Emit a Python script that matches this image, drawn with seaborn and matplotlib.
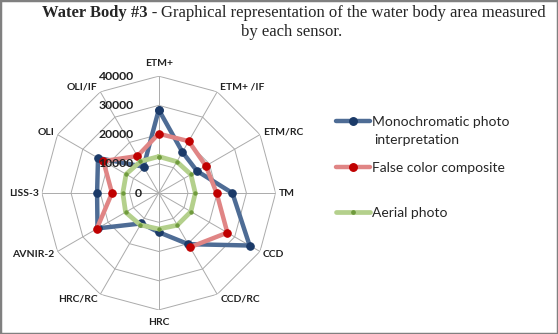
import numpy as np
import pandas as pd
import seaborn as sns
import matplotlib.pyplot as plt
from matplotlib import transforms
from matplotlib.lines import Line2D
from matplotlib.patches import Rectangle

sensors = ["ETM+", "ETM+ /IF", "ETM/RC", "TM", "CCD", "CCD/RC",
           "HRC", "HRC/RC", "AVNIR-2", "LISS-3", "OLI", "OLI/IF"]
mono = [28500, 16200, 15100, 25200, 35900, 20200,
        13400, 12000, 24200, 21100, 24000, 10400]
false_color = [20300, 20500, 18600, 19800, 27100, 21400,
               np.nan, np.nan, 24500, 16000, 21900, 14600]
aerial = [12500, 12400, 12700, 12500, 12700, 12700,
          12300, 12600, 13100, 12300, 12900, 12500]
ring_ticks = [0, 10000, 20000, 30000, 40000]

series = [
    ("Monochromatic photo", mono, "#4e6c95", "#1b3a68", 3.2, 5.4),
    ("False color composite", false_color, "#e08585", "#c00000", 3.2, 5.4),
    ("Aerial photo", aerial, "#b4d08c", "#6f9a3c", 3.4, 2.4),
]

sns.set_theme(style="white")
plt.rcParams["font.family"] = ["Lato", "DejaVu Sans"]

theta = np.linspace(0, 2 * np.pi, len(sensors), endpoint=False)


def loop(values):
    df = pd.DataFrame({"theta": theta, "value": values})
    missing = np.where(df["value"].isna())[0]
    if len(missing):
        start = (missing[-1] + 1) % len(df)
        df = pd.concat([df.iloc[start:], df.iloc[:start]]).dropna()
    else:
        df = pd.concat([df, df.iloc[:1]])
    return df.reset_index(drop=True)


fig = plt.figure(figsize=(5.58, 3.34), dpi=100)
ax = fig.add_axes([0.075, 0.072, 0.419, 0.70], projection="polar")
ax.set_theta_offset(np.pi / 2)
ax.set_theta_direction(-1)
ax.grid(False)
ax.spines["polar"].set_visible(False)
ax.set_xticks([])
ax.set_yticks([])

# dodecagon grid
closed = np.append(theta, theta[0])
for r in ring_ticks[1:]:
    ax.plot(closed, [r] * len(closed), color="#ababab", lw=0.7, zorder=1)
for t in theta:
    ax.plot([t, t], [0, ring_ticks[-1]], color="#ababab", lw=0.7, zorder=1)

handles = []
for name, vals, lc, mc, lw, ms in series:
    sns.lineplot(data=loop(vals), x="theta", y="value", sort=False,
                 estimator=None, ax=ax, color=lc, lw=lw, marker="o",
                 markersize=ms, markerfacecolor=mc, markeredgecolor=mc,
                 zorder=3)
    handles.append(Line2D([], [], color=lc, lw=lw, marker="o", markersize=ms,
                          markerfacecolor=mc, markeredgecolor=mc))

ax.set_ylim(0, ring_ticks[-1])
ax.set_xlabel("")
ax.set_ylabel("")

for r in ring_ticks:
    off = transforms.offset_copy(ax.transData, fig=fig,
                                 x=-25 if r else -17, y=0, units="dots")
    ax.text(0, r, f"{r}", transform=off, ha="right", va="center",
            fontsize=8.8, fontweight="bold", color="#222222", zorder=5)

# category labels sit just outside the outer ring vertex
for t, name in zip(theta, sensors):
    sx, cy = np.sin(t), np.cos(t)
    if abs(sx) < 0.01:
        ha, dx, dy = "center", 0, 13 * np.sign(cy)
    else:
        ha, dx, dy = ("left", 3, 5 * cy) if sx > 0 else ("right", -3, 5 * cy)
    off = transforms.offset_copy(ax.transData, fig=fig, x=dx, y=dy, units="dots")
    ax.text(t, ring_ticks[-1], name, transform=off, ha=ha, va="center",
            fontsize=7.5, fontweight="bold", color="#222222", clip_on=False)

# legend, one entry per series
legend_y = [1 - 121.7 / 334, 1 - 167.7 / 334, 1 - 213 / 334]
for h, (name, *_), y in zip(handles, series, legend_y):
    fig.legend(handles=[h], labels=[name], loc="center left",
               bbox_to_anchor=(336 / 558, y), frameon=False, fontsize=10,
               handlelength=2.45, handletextpad=0.15, borderpad=0,
               borderaxespad=0)
fig.text(374 / 558, 1 - 140 / 334, "interpretation", fontsize=10,
         va="center", ha="left")

# title: bold prefix + regular text
title_font = dict(family=["Liberation Serif", "DejaVu Serif"], fontsize=12,
                  va="center")
renderer = fig.canvas.get_renderer()
t1 = fig.text(0, 1 - 13 / 334, "Water Body #3 -", fontweight="bold", **title_font)
t2 = fig.text(0, 1 - 13 / 334,
              "Graphical representation of the water body area measured",
              **title_font)
w1 = t1.get_window_extent(renderer).width
w2 = t2.get_window_extent(renderer).width
gap = 4
x0 = 294 - (w1 + gap + w2) / 2
t1.set_x(x0 / 558)
t2.set_x((x0 + w1 + gap) / 558)
fig.text(292 / 558, 1 - 32.5 / 334, "by each sensor.", ha="center", **title_font)

fig.patches.append(Rectangle((0, 0), 1, 1, transform=fig.transFigure,
                             fill=False, edgecolor="#808080", lw=2.5))

fig.savefig("out.png", dpi=100)
